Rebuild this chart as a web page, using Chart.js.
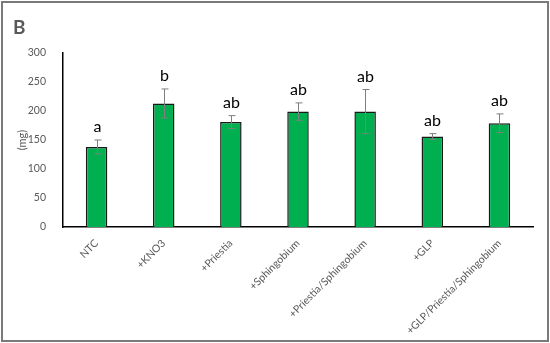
<!DOCTYPE html>
<html>
<head>
<meta charset="utf-8">
<script src="https://cdn.jsdelivr.net/npm/chart.js@4"></script>
<style>
    html, body { margin: 0; padding: 0; background: #fff; }
    #wrap { width: 550px; height: 343px; }
</style>
</head>
<body>
<div id="wrap"><canvas id="massChart" width="550" height="343"></canvas></div>
<script>
const categories = ['NTC', '+KNO3', '+Priestia', '+Sphingobium', '+Priestia/Sphingobium', '+GLP', '+GLP/Priestia/Sphingobium'];
const meanValues = [138, 213, 181, 199, 199, 156, 179];
const errorValues = [12, 25, 11, 15, 38, 5, 16];
const letters = ['a', 'b', 'ab', 'ab', 'ab', 'ab', 'ab'];
const yTicks = [0, 50, 100, 150, 200, 250, 300];

const FONT = 'Lato, "Open Sans", sans-serif';
const GREY = '#595959';

// Barras de error, letras, marco y la "B"
const decorPlugin = {
    id: 'decor',
    afterDatasetsDraw(chart) {
        const ctx = chart.ctx;
        const x = chart.scales.x;
        const y = chart.scales.y;
        ctx.save();
        ctx.strokeStyle = '#7f7f7f';
        ctx.lineWidth = 1;
        meanValues.forEach((v, i) => {
            const cx = Math.round(x.getPixelForValue(i)) + 0.5;
            const top = y.getPixelForValue(v + errorValues[i]);
            const bot = y.getPixelForValue(v - errorValues[i]);
            ctx.beginPath();
            ctx.moveTo(cx, top);
            ctx.lineTo(cx, bot);
            ctx.moveTo(cx - 3, top);
            ctx.lineTo(cx + 4, top);
            ctx.moveTo(cx - 3, bot);
            ctx.lineTo(cx + 4, bot);
            ctx.stroke();

            ctx.fillStyle = '#000';
            ctx.font = '16px ' + FONT;
            ctx.textAlign = 'center';
            ctx.textBaseline = 'bottom';
            ctx.fillText(letters[i], cx, top - 5);
        });

        ctx.fillStyle = GREY;
        ctx.font = 'bold 19px ' + FONT;
        ctx.textAlign = 'left';
        ctx.textBaseline = 'alphabetic';
        ctx.fillText('B', 13, 34);

        ctx.strokeStyle = '#7a7a7a';
        ctx.lineWidth = 2;
        ctx.strokeRect(2, 2, 546, 339);
        ctx.restore();
    }
};

const ctx = document.getElementById('massChart').getContext('2d');
const massChart = new Chart(ctx, {
    type: 'bar',
    data: {
        labels: categories,
        datasets: [{
            data: meanValues,
            backgroundColor: '#00b050',
            borderColor: '#1a1a1a',
            borderWidth: 1.5,
            barPercentage: 0.64,
            categoryPercentage: 0.5
        }]
    },
    options: {
        responsive: false,
        animation: false,
        layout: {
            padding: { top: 53, right: 17, bottom: 0, left: 16 }
        },
        plugins: {
            legend: { display: false },
            tooltip: { enabled: false }
        },
        scales: {
            x: {
                grid: { display: false },
                border: { display: true, color: '#000', width: 1.5 },
                ticks: {
                    color: GREY,
                    font: { family: FONT, size: 10.5 },
                    minRotation: 45,
                    maxRotation: 45,
                    padding: 2
                },
                afterFit(scale) { scale.height = 116; }
            },
            y: {
                min: 0,
                max: 300,
                afterBuildTicks(scale) {
                    scale.ticks = yTicks.map(v => ({ value: v }));
                },
                grid: { display: false },
                border: { display: true, color: '#000', width: 1.5 },
                ticks: {
                    color: GREY,
                    font: { family: FONT, size: 10.5 },
                    padding: 9
                },
                title: {
                    display: true,
                    text: '(mg)',
                    color: GREY,
                    font: { family: FONT, size: 11 },
                    padding: 0
                },
                afterFit(scale) { scale.width = 47; }
            }
        }
    },
    plugins: [decorPlugin]
});
</script>
</body>
</html>
